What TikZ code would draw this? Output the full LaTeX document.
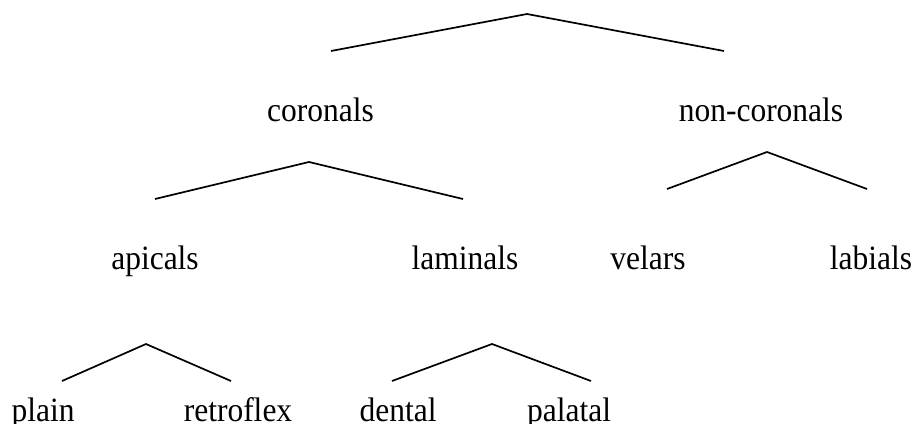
\documentclass[tikz,border=0pt]{standalone}
\usepackage{fontspec}
\setmainfont{Liberation Serif}
\newcommand{\tallword}[1]{\scalebox{1}[1.08]{#1}}
\begin{document}
\begin{tikzpicture}[x=1pt,y=-1pt,
  lbl/.style={anchor=base,inner sep=0pt,font=\fontsize{31.5}{36}\selectfont},
  br/.style={line width=1.7pt,line join=miter}]
\useasboundingbox (0,0) rectangle (915,423);
% top branch
\coordinate (a0) at (527,14);
\coordinate (a0l) at (331,51);
\coordinate (a0r) at (724,51);
\draw[br] (a0l) -- (a0) -- (a0r);
\node[lbl] (coronals) at (320.5,121) {\tallword{coronals}};
\node[lbl] (noncoronals) at (761,121) {\tallword{non-coronals}};
% coronals branch
\coordinate (a1) at (309,162);
\coordinate (a1l) at (155,199);
\coordinate (a1r) at (463,199);
\draw[br] (a1l) -- (a1) -- (a1r);
% non-coronals branch
\coordinate (a2) at (767,152);
\coordinate (a2l) at (667,189);
\coordinate (a2r) at (867,189);
\draw[br] (a2l) -- (a2) -- (a2r);
\node[lbl] (apicals) at (155,269.5) {\tallword{apicals}};
\node[lbl] (laminals) at (465,269.5) {\tallword{laminals}};
\node[lbl] (velars) at (648,269.5) {\tallword{velars}};
\node[lbl] (labials) at (871,269.5) {\tallword{labials}};
% apicals branch
\coordinate (a3) at (146,344);
\coordinate (a3l) at (62,381);
\coordinate (a3r) at (231,381);
\draw[br] (a3l) -- (a3) -- (a3r);
% laminals branch
\coordinate (a4) at (492,344);
\coordinate (a4l) at (392,381);
\coordinate (a4r) at (591,381);
\draw[br] (a4l) -- (a4) -- (a4r);
\node[lbl] (plain) at (43,421.5) {\tallword{plain}};
\node[lbl] (retroflex) at (238,421.5) {\tallword{retroflex}};
\node[lbl] (dental) at (398,421.5) {\tallword{dental}};
\node[lbl] (palatal) at (569,421.5) {\tallword{palatal}};
\end{tikzpicture}
\end{document}
